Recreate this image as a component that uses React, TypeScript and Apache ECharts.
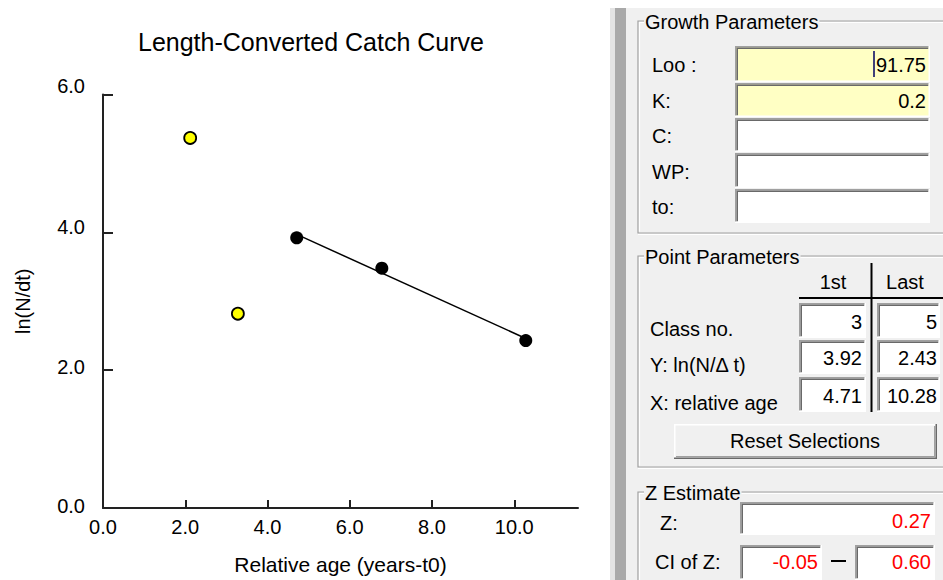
import React, { useEffect, useRef } from "react";
import * as echarts from "echarts";

// ---- chart data ----
const chartTitle = "Length-Converted Catch Curve";
const xAxisName = "Relative age (years-t0)";
const yAxisName = "ln(N/dt)";
const xTicks = [0, 2, 4, 6, 8, 10];
const yTicks = [0, 2, 4, 6];
const excludedX = [2.12, 3.28];
const excludedY = [5.37, 2.82];
const selectedX = [4.71, 6.78, 10.28];
const selectedY = [3.92, 3.48, 2.43];
const fitX = [4.71, 10.28];
const fitY = [3.97, 2.46];

// ---- panel data ----
const growthLabels = ["Loo :", "K:", "C:", "WP:", "to:"];
const growthValues = ["91.75", "0.2", "", "", ""];
const pointRowLabels = ["Class no.", "Y: ln(N/Δ t)", "X: relative age"];
const pointHeaders = ["1st", "Last"];
const pointFirst = ["3", "3.92", "4.71"];
const pointLast = ["5", "2.43", "10.28"];
const zValue = "0.27";
const ciLow = "-0.05";
const ciHigh = "0.60";

const FONT = "Liberation Sans, Arial, sans-serif";
const PANEL_BG = "#f0f0f0";

function sunkenBox(x: number, y: number, w: number, h: number, fill: string): any[] {
  return [
    { type: "rect", shape: { x, y, width: w, height: h }, style: { fill } },
    { type: "polyline", shape: { points: [[x + 0.75, y + h], [x + 0.75, y + 0.75], [x + w, y + 0.75]] }, style: { stroke: "#a0a0a0", lineWidth: 1.5, fill: null } },
    { type: "polyline", shape: { points: [[x + 2.25, y + h - 1.5], [x + 2.25, y + 2.25], [x + w - 1.5, y + 2.25]] }, style: { stroke: "#696969", lineWidth: 1.5, fill: null } },
    { type: "polyline", shape: { points: [[x, y + h - 0.75], [x + w - 0.75, y + h - 0.75], [x + w - 0.75, y]] }, style: { stroke: "#ffffff", lineWidth: 1.5, fill: null } },
  ];
}

function groupBox(x: number, y: number, x2: number, y2: number, title: string): any[] {
  return [
    { type: "polyline", shape: { points: [[x2, y], [x, y], [x, y2], [x2, y2]] }, style: { stroke: "#a0a0a0", lineWidth: 1.2, fill: null } },
    { type: "polyline", shape: { points: [[x2, y + 1.5], [x + 1.5, y + 1.5], [x + 1.5, y2 - 1.5]] }, style: { stroke: "#ffffff", lineWidth: 1.2, fill: null } },
    { type: "line", shape: { x1: x, y1: y2 + 1.5, x2: x2, y2: y2 + 1.5 }, style: { stroke: "#ffffff", lineWidth: 1.2 } },
    {
      type: "text", x: x + 6, y: y + 1,
      style: { text: title, fontSize: 20, fontFamily: FONT, fill: "#000", align: "left", verticalAlign: "middle", backgroundColor: PANEL_BG, padding: [0, 1, 0, 1] },
    },
  ];
}

function label(text: string, x: number, y: number, opts: any = {}): any {
  return {
    type: "text", x, y,
    style: { text, fontSize: 20, fontFamily: FONT, fill: "#000", align: "left", verticalAlign: "middle", ...opts },
  };
}

function buildPanel(): any[] {
  const els: any[] = [];
  // panel background and left strip
  els.push({ type: "rect", shape: { x: 610, y: 8, width: 5, height: 572 }, style: { fill: "#e3e3e3" } });
  els.push({ type: "rect", shape: { x: 615, y: 8, width: 11, height: 572 }, style: { fill: "#a9a9a9" } });
  els.push({ type: "rect", shape: { x: 626, y: 8, width: 317, height: 572 }, style: { fill: PANEL_BG } });

  // Growth parameters
  els.push(...groupBox(638, 21, 945, 233, "Growth Parameters"));
  const gTops = [46, 83, 118, 153, 189];
  const gBottoms = [82, 117, 152, 188, 223];
  growthLabels.forEach((l, i) => {
    const top = gTops[i];
    const h = gBottoms[i] - top;
    const fill = i < 2 ? "#ffffc4" : "#ffffff";
    els.push(...sunkenBox(735, top, 195, h, fill));
    els.push(label(l, 652, top + h / 2 + 1));
    if (growthValues[i]) {
      els.push(label(growthValues[i], 926, top + h / 2 + 1, { align: "right" }));
    }
  });
  // caret
  els.push({ type: "line", shape: { x1: 874, y1: 51, x2: 874, y2: 77 }, style: { stroke: "#000060", lineWidth: 1.5 } });

  // Point parameters
  els.push(...groupBox(638, 256, 945, 467, "Point Parameters"));
  els.push(label(pointHeaders[0], 833, 282, { align: "center" }));
  els.push(label(pointHeaders[1], 905, 282, { align: "center" }));
  els.push({ type: "line", shape: { x1: 871.5, y1: 263, x2: 871.5, y2: 412 }, style: { stroke: "#000", lineWidth: 2 } });
  els.push({ type: "line", shape: { x1: 799, y1: 298, x2: 943, y2: 298 }, style: { stroke: "#000", lineWidth: 2 } });
  const pTops = [303, 340, 377];
  const pBottoms = [338, 374, 412];
  pointRowLabels.forEach((l, i) => {
    const top = pTops[i];
    const h = pBottoms[i] - top;
    els.push(...sunkenBox(799, top, 67, h, "#ffffff"));
    els.push(...sunkenBox(877, top, 63, h, "#ffffff"));
    els.push(label(pointFirst[i], 862, top + h / 2 + 1, { align: "right" }));
    els.push(label(pointLast[i], 937, top + h / 2 + 1, { align: "right" }));
    els.push(label(l, 650, top + h / 2 + 8));
  });
  // Reset button
  els.push({ type: "rect", shape: { x: 674, y: 424, width: 263, height: 35 }, style: { fill: "#f0f0f0" } });
  els.push({ type: "polyline", shape: { points: [[674.75, 459], [674.75, 424.75], [937, 424.75]] }, style: { stroke: "#ffffff", lineWidth: 1.5, fill: null } });
  els.push({ type: "polyline", shape: { points: [[674, 458.25], [936.25, 458.25], [936.25, 424]] }, style: { stroke: "#696969", lineWidth: 1.5, fill: null } });
  els.push({ type: "polyline", shape: { points: [[676, 456.75], [934.75, 456.75], [934.75, 426]] }, style: { stroke: "#a0a0a0", lineWidth: 1.5, fill: null } });
  els.push(label("Reset Selections", 805, 441, { align: "center" }));

  // Z estimate
  els.push(...groupBox(638, 492, 945, 600, "Z Estimate"));
  els.push(...sunkenBox(740, 502, 195, 33, "#ffffff"));
  els.push(label("Z:", 660, 523));
  els.push(label(zValue, 931, 521, { align: "right", fill: "#ff0000" }));
  els.push(...sunkenBox(740, 545, 82, 35, "#ffffff"));
  els.push(...sunkenBox(855, 545, 80, 35, "#ffffff"));
  els.push(label("CI of Z:", 655, 562));
  els.push(label(ciLow, 818, 562, { align: "right", fill: "#ff0000" }));
  els.push(label(ciHigh, 931, 562, { align: "right", fill: "#ff0000" }));
  els.push({ type: "line", shape: { x1: 831, y1: 561, x2: 846, y2: 561 }, style: { stroke: "#000", lineWidth: 2 } });
  return els;
}

const yOffsets: Record<string, number> = { "0": 4, "2": 6, "4": 10, "6": 18 };

export default function App() {
  const ref = useRef<HTMLDivElement>(null);
  useEffect(() => {
    if (!ref.current) return;
    const chart = echarts.init(ref.current, null, { renderer: "svg" });
    const rich: any = {};
    yTicks.forEach((t) => {
      rich["l" + t] = { fontSize: 20, fontFamily: FONT, color: "#000", padding: [0, 0, yOffsets[String(t)], 0] };
    });
    chart.setOption({
      animation: false,
      backgroundColor: "#ffffff",
      title: {
        text: chartTitle,
        left: 306,
        top: 24,
        textAlign: "center",
        textStyle: { fontSize: 25, fontWeight: "normal", fontFamily: FONT, color: "#000" },
      },
      grid: { left: 103, top: 94.5, width: 475, height: 414.5, containLabel: false },
      xAxis: {
        type: "value",
        min: 0,
        max: 11.55,
        interval: 2,
        name: xAxisName,
        nameLocation: "middle",
        nameGap: 46,
        nameTextStyle: { fontSize: 21, fontFamily: FONT, color: "#000" },
        axisLine: { lineStyle: { color: "#222", width: 2 } },
        axisTick: { inside: true, length: 8, lineStyle: { color: "#222", width: 2 }, customValues: xTicks },
        axisLabel: {
          customValues: xTicks,
          margin: 9,
          fontSize: 20,
          fontFamily: FONT,
          color: "#000",
          formatter: (v: number) => v.toFixed(1),
        },
        splitLine: { show: false },
      },
      yAxis: {
        type: "value",
        min: 0,
        max: 6,
        interval: 2,
        name: yAxisName,
        nameLocation: "middle",
        nameGap: 70,
        nameRotate: 90,
        nameTextStyle: { fontSize: 20, fontFamily: FONT, color: "#000" },
        axisLine: { lineStyle: { color: "#222", width: 2 } },
        axisTick: { inside: true, length: 10, lineStyle: { color: "#222", width: 2 } },
        axisLabel: {
          margin: 18,
          fontSize: 20,
          fontFamily: FONT,
          color: "#000",
          formatter: (v: number) => `{l${v}|${v.toFixed(1)}}`,
          rich,
        },
        splitLine: { show: false },
      },
      series: [
        {
          type: "line",
          data: fitX.map((x, i) => [x, fitY[i]]),
          showSymbol: false,
          lineStyle: { color: "#000", width: 1.5 },
          z: 2,
        },
        {
          type: "scatter",
          data: excludedX.map((x, i) => [x, excludedY[i]]),
          symbol: "circle",
          symbolSize: 12,
          itemStyle: { color: "#ffff00", borderColor: "#000", borderWidth: 1.8, opacity: 1 },
          z: 3,
        },
        {
          type: "scatter",
          data: selectedX.map((x, i) => [x, selectedY[i]]),
          symbol: "circle",
          symbolSize: 13,
          itemStyle: { color: "#000", opacity: 1 },
          z: 3,
        },
      ],
      graphic: { elements: buildPanel() },
    });
    return () => chart.dispose();
  }, []);
  return (
    <div
      ref={ref}
      style={{ position: "absolute", left: 0, top: 0, width: 943, height: 580, background: "#fff" }}
    />
  );
}
